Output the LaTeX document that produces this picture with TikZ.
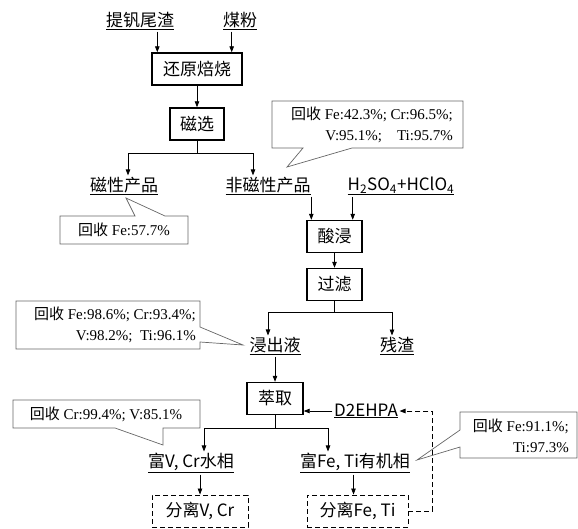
\documentclass[tikz,border=0pt]{standalone}
\usepackage{fontspec}
\setmainfont{Liberation Serif}
\newfontfamily\cjk{Noto Sans CJK SC}
\newcommand\lblfont{\cjk\fontsize{17}{20}\selectfont}
\newcommand\notefont{\fontsize{15}{21}\selectfont}
\newcommand\rec{{\cjk 回收}\ }
\usetikzlibrary{arrows.meta,calc}

\begin{document}
\begin{tikzpicture}[x=1pt,y=1pt,
  box/.style={draw, line width=1.4pt, inner sep=0pt, minimum height=32pt, font=\lblfont},
  dbox/.style={draw, line width=0.9pt, dash pattern=on 5pt off 3pt, inner sep=0pt, minimum height=32pt, font=\lblfont},
  lbl/.style={inner sep=1.5pt, font=\lblfont},
  arr/.style={-{Triangle[length=6pt,width=4.5pt]}, line width=0.8pt},
  note/.style={draw=black!60, line width=0.7pt},
  notetxt/.style={inner sep=0pt, font=\notefont, align=right}]
\useasboundingbox (0,0) rectangle (578,-528);

% feed and roasting
\node[lbl] (tailings) at (140,-21) {\underline{提钒尾渣}};
\node[lbl] (coal) at (240,-21) {\underline{煤粉}};
\node[box, minimum width=90pt] (roast) at (197,-69) {还原焙烧};
\node[box, minimum width=54pt] (magsep) at (197,-124) {磁选};
\node[lbl] (magprod) at (124,-186) {\underline{磁性产品}};
\node[lbl] (nonmag) at (268,-186) {\underline{非磁性产品}};
\node[lbl] (acidmix) at (401,-186) {\underline{H\textsubscript{2}SO\textsubscript{4}+HClO\textsubscript{4}}};

% leaching
\node[box, minimum width=55pt] (acid) at (334.5,-236.5) {酸浸};
\node[box, minimum width=55pt] (filter) at (334.5,-284.5) {过滤};
\node[lbl] (leachate) at (275,-346) {\underline{浸出液}};
\node[lbl] (residue) at (397,-346) {\underline{残渣}};

% extraction
\node[box, minimum width=56pt] (extract) at (275,-398.5) {萃取};
\node[lbl] (dehpa) at (366,-411) {\underline{D2EHPA}};
\node[lbl] (aqphase) at (191,-463) {\underline{富V, Cr水相}};
\node[lbl] (orgphase) at (355,-463) {\underline{富Fe, Ti有机相}};
\node[dbox, minimum width=96pt] (sepVCr) at (200,-511) {分离V, Cr};
\node[dbox, minimum width=101pt] (sepFeTi) at (357.5,-511) {分离Fe, Ti};

% connectors
\draw[arr] ([xshift=6pt]roast.north west |- tailings.south) -- ([xshift=6pt]roast.north west);
\draw[arr] ([xshift=-11pt]roast.north east |- coal.south) -- ([xshift=-11pt]roast.north east);
\draw[arr] (roast) -- (magsep);
\draw[arr] (magsep.south) -- ++(0,-13) -| ([xshift=4pt]magprod.north);
\draw[arr] (magsep.south) -- ++(0,-13) -| ([xshift=-15pt]nonmag.north);
\draw[arr] ([xshift=5pt]acid.north west |- nonmag.south) -- ([xshift=5pt]acid.north west);
\draw[arr] ([xshift=-10pt]acid.north east |- acidmix.south) -- ([xshift=-10pt]acid.north east);
\draw[arr] (acid) -- (filter);
\draw[arr] (filter.south) -- ++(0,-11) -| ([xshift=-7pt]leachate.north);
\draw[arr] (filter.south) -- ++(0,-11) -| ([xshift=-5pt]residue.north);
\draw[arr] (leachate.south -| extract.north) -- (extract.north);
\draw[arr] (extract.south) -- ++(0,-13) -| ([xshift=13pt]aqphase.north);
\draw[arr] (extract.south) -- ++(0,-13) -| ([xshift=-27pt]orgphase.north);
\draw[arr] (dehpa.west) -- (extract.east |- dehpa.west);
\draw[arr] (aqphase.south -| sepVCr.north) -- (sepVCr.north);
\draw[arr] ([xshift=-4pt]sepFeTi.north |- orgphase.south) -- ([xshift=-4pt]sepFeTi.north);
\draw[arr, line width=0.9pt, dash pattern=on 5pt off 3pt] (sepFeTi.east) -- ++(24,0) |- (dehpa.east);

% recovery callouts
\draw[note] (60,-216) -- (135,-216) -- (126,-198) -- (165,-216) -- (188,-216)
  -- (188,-244) -- (60,-244) -- cycle;
\node[notetxt] (recMag) at (124,-230) {\rec Fe:57.7\%};
\draw[note] (272,-101) -- (463,-101) -- (463,-148) -- (352,-148) -- (287,-167)
  -- (303,-148) -- (272,-148) -- cycle;
\node[notetxt, anchor=east] (recNonmag) at (453,-124.5) {\rec Fe:42.3\%; Cr:96.5\%;\\ V:95.1\%;\quad Ti:95.7\%};
\draw[note] (16,-301) -- (200,-301) -- (200,-327) -- (243,-345) -- (200,-342)
  -- (200,-349) -- (16,-349) -- cycle;
\node[notetxt, anchor=east] (recLeach) at (196,-325) {\rec Fe:98.6\%; Cr:93.4\%;\\ V:98.2\%;\enspace Ti:96.1\%};
\draw[note] (13,-400) -- (200,-400) -- (200,-428) -- (163,-428) -- (163,-445)
  -- (115,-428) -- (13,-428) -- cycle;
\node[notetxt] (recAq) at (106,-414) {\rec Cr:99.4\%; V:85.1\%};
\draw[note] (460,-412) -- (577,-412) -- (577,-458) -- (460,-458) -- (460,-447)
  -- (417,-460) -- (460,-430) -- cycle;
\node[notetxt, anchor=east] (recOrg) at (569,-436) {\rec Fe:91.1\%;\\ Ti:97.3\%};
\end{tikzpicture}
\end{document}
